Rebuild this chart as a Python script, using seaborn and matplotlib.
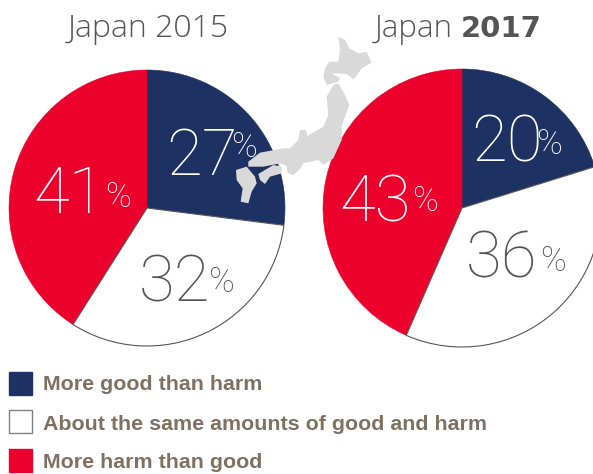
import matplotlib
matplotlib.use("Agg")
import matplotlib.pyplot as plt
import seaborn as sns
from matplotlib.patches import Polygon, Rectangle

sns.set_theme(style="white")
plt.rcParams['font.family'] = ['Roboto', 'DejaVu Sans']

CATS = ["More good than harm", "About the same amounts of good and harm", "More harm than good"]
V2015 = [27, 32, 41]
V2017 = [20, 36, 43]
COLORS = ["#1d3263", "#ffffff", "#ec002c"]
TXT = ["#ffffff", "#555555", "#ffffff"]

W, H = 593, 474
fig = plt.figure(figsize=(W/100, H/100), dpi=100)

def pie(cx, cy, r, vals):
    ax = fig.add_axes([(cx-r-2)/W, 1-(cy+r+2)/H, (2*r+4)/W, (2*r+4)/H])
    wedges, _ = ax.pie(vals, colors=COLORS, startangle=90, counterclock=False,
                       radius=r/(r+2), center=(0, 0), frame=False)
    for w, c in zip(wedges, COLORS):
        w.set_edgecolor(c)
        w.set_linewidth(0.4)
    wedges[1].set_edgecolor("#555555")
    wedges[1].set_linewidth(0.8)
    wedges[1].set_zorder(5)
    ax.set_xlim(-1, 1); ax.set_ylim(-1, 1)
    ax.patch.set_alpha(0)

pie(147, 208, 138, V2015)
pie(462, 208, 139, V2017)

def z(pts):
    return [(230 + x/3, 20 + y/3) for x, y in pts]

hokkaido = z([(325,50),(345,60),(358,85),(385,100),(410,95),(425,128),(395,145),(372,178),(350,162),
              (325,160),(305,160),(330,175),(325,185),(290,195),(280,170),(285,145),(298,125),(325,125),(330,90)])
honshu = z([(310,195),(325,190),(345,225),(358,255),(345,290),(335,320),(335,360),(310,415),(280,435),
            (265,420),(220,430),(212,445),(190,465),(172,458),(170,438),(150,430),(100,440),(55,440),
            (55,425),(90,398),(160,385),(180,385),(205,360),(210,330),(228,330),(232,348),(280,320),
            (295,285),(290,230)])
shikoku = z([(85,462),(130,435),(155,440),(155,460),(120,470),(105,492),(90,480)])
kyushu = z([(18,450),(50,440),(75,470),(80,490),(65,515),(55,550),(32,545),(38,505),(20,480)])

overlay = fig.add_axes([0, 0, 1, 1])
overlay.set_xlim(0, W); overlay.set_ylim(H, 0); overlay.axis("off"); overlay.patch.set_alpha(0)
for p in (hokkaido, honshu, shikoku, kyushu):
    overlay.add_patch(Polygon(p, closed=True, fc="#d9d9d9", ec="none"))

overlay.text(68, 29, "Japan 2015", fontsize=23, color="#555555", ha="left", va="center",
             fontweight="light", family=['Open Sans'])
overlay.text(375, 29, "Japan", fontsize=22.5, color="#555555", ha="left", va="center",
             fontweight="light", family=['Open Sans'])
overlay.text(461, 29, "2017", fontsize=21, color="#555555", ha="left", va="center", fontweight="bold",
             family=['DejaVu Sans'])

labels = [(166,157,V2015[0],0,231,147),(139,283,V2015[1],1,208,282),(33,195,V2015[2],2,105,197),
          (471,144,V2017[0],0,536,144),(466,260,V2017[1],1,540,261),(339,204,V2017[2],2,412,201)]
for x, y, v, i, px, py in labels:
    overlay.text(x, y, str(v), fontsize=47, color=TXT[i], ha="left", va="center", fontweight="light")
    overlay.text(px, py, "%", fontsize=25, color=TXT[i], ha="left", va="center", fontweight="light")

for (y0, ty), c, n in zip(((372, 385), (410, 424), (449, 462)), COLORS, CATS):
    overlay.add_patch(Rectangle((9, y0), 23, 23, fc=c, ec="#808080" if c == "#ffffff" else c, lw=1.0))
    overlay.text(43, ty, n, fontsize=15.4, color="#7f7060", fontweight="bold", ha="left", va="center",
                 family=['Liberation Sans'])

fig.savefig("out.png", dpi=100)
